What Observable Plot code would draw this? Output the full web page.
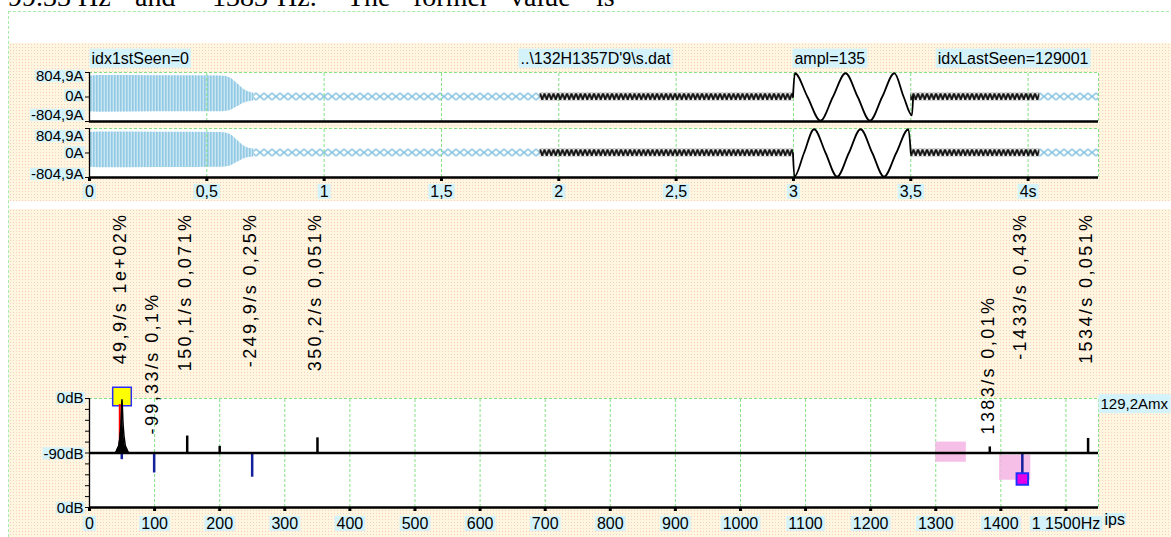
<!DOCTYPE html>
<html><head><meta charset="utf-8">
<script src="https://cdn.jsdelivr.net/npm/d3@7"></script>
<script src="https://cdn.jsdelivr.net/npm/@observablehq/plot@0.6"></script>
<style>
body{margin:0;background:#fff;}
#wrap{position:relative;width:1171px;height:537px;overflow:hidden;background:#fff;font-family:"Liberation Sans",Arial,sans-serif;}
.beige{position:absolute;background-color:#fef6df;background-image:url("data:image/svg+xml,%3Csvg xmlns='http://www.w3.org/2000/svg' width='3' height='3'%3E%3Crect x='1' y='1' width='1' height='1' fill='%23f7cfc8'/%3E%3C/svg%3E");background-size:3px 3px;}
.doc{position:absolute;top:-17px;font-family:"Liberation Serif","Times New Roman",serif;font-size:28px;line-height:28px;white-space:nowrap;color:#000;}
#border{position:absolute;left:8px;top:11px;width:1170px;height:530px;border-top:1px dashed #a6eca6;border-left:1px dashed #a6eca6;}
g[aria-description="speclbl"] text{letter-spacing:2.4px;}
</style></head>
<body><div id="wrap">
<div class="doc" style="left:8px">99.33</div>
<div class="doc" style="left:78px">Hz</div>
<div class="doc" style="left:135px">and</div>
<div class="doc" style="left:212px">1383</div>
<div class="doc" style="left:277px">Hz.</div>
<div class="doc" style="left:347px">The</div>
<div class="doc" style="left:413px">former</div>
<div class="doc" style="left:510px">value</div>
<div class="doc" style="left:596px">is</div>
<div id="border"></div>
<div class="beige" style="left:9px;top:43px;width:1162px;height:158px"></div>
<div class="beige" style="left:9px;top:209px;width:1162px;height:328px"></div>
</div>
<script>
// ---------------- data ----------------
// time axis (s)
const timeTicks = [0, 0.5, 1, 1.5, 2, 2.5, 3, 3.5, 4];
const timeTickLabels = ["0", "0,5", "1", "1,5", "2", "2,5", "3", "3,5", "4s"];
const timeMax = 4.3;
// amplitude axis (units of 804,9 A)
const ampTicks = [1, 0, -1];
const ampTickLabels = ["804,9A", "0A", "-804,9A"];
const headerTexts = ["idx1stSeen=0", "..\\132H1357D'9\\s.dat", "ampl=135", "idxLastSeen=129001"];

// envelope of the dense light-blue start-up part
const envT   = [0, 0.04, 0.3, 0.56, 0.6, 0.63, 0.66, 0.7];
const env1Hi = [0.86, 0.88, 0.87, 0.86, 0.78, 0.55, 0.3, 0.16];
const env1Lo = [-0.6, -0.62, -0.6, -0.6, -0.55, -0.4, -0.24, -0.16];
const env2Hi = [0.84, 0.86, 0.85, 0.84, 0.76, 0.52, 0.28, 0.16];
const env2Lo = [-0.58, -0.6, -0.59, -0.58, -0.53, -0.38, -0.23, -0.16];
// small ripple segments
const zigHalf = 0.16;
const blueZigStart = [0.7, 4.05];
const blueZigEnd   = [1.92, 4.3];
const blackZigStart = [1.92, 3.5];
const blackZigEnd   = [3.0, 4.05];
// low-frequency wave between 3 s and 3.5 s
const sine1T = [2.998, 3.006, 3.06, 3.115, 3.168, 3.222, 3.274, 3.326, 3.378, 3.43, 3.47, 3.505, 3.51];
const sine1V = [0, 0.97, 0, -0.97, 0, 0.97, 0, -0.97, 0, 0.97, 0, -0.75, 0];
const sine2T = [2.998, 3.004, 3.045, 3.088, 3.137, 3.186, 3.236, 3.286, 3.336, 3.386, 3.438, 3.49, 3.5];
const sine2V = [0, -0.97, 0, 0.97, 0, -0.97, 0, 0.97, 0, -0.97, 0, 0.97, 0];

// spectrum (Hz, dB, sign)
const freqMax = 1550;
const specTicks = [0, 100, 200, 300, 400, 500, 600, 700, 800, 900, 1000, 1100, 1200, 1300, 1400, 1500];
const specTickLabels = ["0", "100", "200", "300", "400", "500", "600", "700", "800", "900", "1000", "1100", "1200", "1300", "1400", "1 1500Hz"];
const dbMinorTicks = [-1, -0.8, -0.6, -0.4, -0.2, 0, 0.2, 0.4, 0.6, 0.8, 1];
const dbTickLabels = ["0dB", "-90dB", "0dB"];
const peakFreq = [40, 42.5, 45, 47, 48.5, 49.4, 49.9, 50.4, 51.5, 53, 55, 57.5, 60];
const peakDb   = [-90, -84, -78, -62, -42, -12, -2, -12, -42, -62, -78, -84, -90];
const redFreq = [46.5];
const redDb = [-10];
const specFreq = [49.6, 99.33, 150.1, 200, 249.9, 350.2, 1383, 1433, 1534];
const specDb   = [-79, -57, -62, -79, -50, -65, -80, -47, -66];
const specSign = [-1, -1, 1, 1, -1, 1, 1, -1, 1];
const labelFreq = [49.9, 99.33, 150.1, 249.9, 350.2, 1383, 1433, 1534];
const labelText = ["49,9/s 1e+02%", "-99,33/s 0,1%", "150,1/s 0,071%", "-249,9/s 0,25%", "350,2/s 0,051%", "1383/s 0,01%", "-1433/s 0,43%", "1534/s 0,051%"];
const boxF1 = [1300, 1398];
const boxF2 = [1347, 1446];
const boxDb1 = [-0.17, -0.5];
const boxDb2 = [0.2, -0.04];
const ampMaxText = "129,2Amx";
const unitText = "ips";

// ---------------- helpers ----------------
const FONT = '"Liberation Sans", Arial, Helvetica, sans-serif';
const GREEN = "#84e084";
const NAVY = "#14209c";
const BOX = "#d4f2fa";
const ns = "http://www.w3.org/2000/svg";
const wrap = document.getElementById("wrap");
const ML = 89, MR = 73, W = 1171;

function place(svg, top) {
  svg.style.position = "absolute";
  svg.style.left = "0px";
  svg.style.top = top + "px";
  wrap.appendChild(svg);
}
function addDefs(svg, html) {
  const defs = document.createElementNS(ns, "defs");
  defs.innerHTML = html;
  svg.insertBefore(defs, svg.firstChild);
}
function boxify(svg, sel, px, py) {
  svg.querySelectorAll(sel).forEach(t => {
    if (!t.textContent.trim()) return;
    const tr = t.getAttribute("transform") || "";
    if (tr.includes("rotate")) return;
    const b = t.getBBox();
    const r = document.createElementNS(ns, "rect");
    r.setAttribute("x", b.x - px);
    r.setAttribute("y", b.y - py);
    r.setAttribute("width", b.width + 2 * px);
    r.setAttribute("height", b.height + 2 * py);
    if (tr) r.setAttribute("transform", tr);
    r.setAttribute("fill", BOX);
    r.setAttribute("stroke", "none");
    t.parentNode.insertBefore(r, t);
  });
}
const baseStyle = {fontFamily: FONT, fontSize: "16px", background: "transparent", overflow: "visible", color: "#000"};

// ---------------- waveform panels ----------------
function wavePanel(p) {
  const env = envT.map((t, i) => ({t, hi: p.hi[i], lo: p.lo[i]}));
  const blueZ = blueZigStart.map((a, i) => ({a, b: blueZigEnd[i]}));
  const blackZ = blackZigStart.map((a, i) => ({a, b: blackZigEnd[i]}));
  const sine = p.sT.map((t, i) => ({t, v: p.sV[i]}));
  const grid = [...timeTicks.slice(1), timeMax];
  const marks = [
    Plot.frame({fill: "white", stroke: "none"}),
    Plot.areaY(env, {x: "t", y1: "lo", y2: "hi", fill: `url(#dense${p.id})`, curve: "monotone-x"}),
    Plot.rect(blueZ, {x1: "a", x2: "b", y1: -zigHalf, y2: zigHalf, fill: `url(#qz${p.id})`}),
    Plot.ruleX(grid, {y1: -1, y2: 1, stroke: GREEN, strokeDasharray: "3,2"}),
    Plot.ruleY([1], {stroke: GREEN, strokeDasharray: "3,2"}),
    Plot.rect(blackZ, {x1: "a", x2: "b", y1: -zigHalf, y2: zigHalf, fill: `url(#bz${p.id})`}),
    Plot.line(sine, {x: "t", y: "v", stroke: "#000", strokeWidth: 1.8, curve: "monotone-x"}),
    Plot.ruleY([-1], {stroke: "#000", strokeWidth: 2.5}),
    Plot.ruleX([0], {stroke: "#000", strokeWidth: 1.3}),
    Plot.axisY({ticks: ampTicks, tickSize: 4, tickFormat: () => ""}),
    ...ampTicks.map((v, i) => Plot.text([ampTickLabels[i]], {x: 0, y: v, text: d => d, textAnchor: "end", dx: -6, dy: p.ldy[i], fontSize: 15, ariaDescription: "lbl"}))
  ];
  if (p.header) {
    const hx = [0, 2.156, 3.0, timeMax];
    const ha = ["start", "middle", "start", "end"];
    const hdx = [2, 0, 1, -10];
    headerTexts.forEach((s, i) => marks.push(Plot.text([s], {x: hx[i], y: 1, text: d => d, textAnchor: ha[i], dx: hdx[i], dy: -14, ariaDescription: "hdr"})));
  }
  if (p.axis) {
    marks.push(Plot.axisX({ticks: timeTicks, tickFormat: d => timeTickLabels[timeTicks.indexOf(d)], tickSize: 4, tickPadding: 4, strokeWidth: 3}));
  }
  const plot = Plot.plot({
    width: W, height: p.mt + 49 + p.mb,
    marginLeft: ML, marginRight: MR, marginTop: p.mt, marginBottom: p.mb,
    x: {domain: [0, timeMax], axis: p.axis ? undefined : null},
    y: {domain: [-1, 1]},
    style: baseStyle,
    marks
  });
  const ys = plot.scale("y");
  const top = ys.apply(zigHalf), h = ys.apply(-zigHalf) - top;
  addDefs(plot, `
    <pattern id="dense${p.id}" patternUnits="userSpaceOnUse" width="3" height="4">
      <rect width="3" height="4" fill="#c9e6f3"/><rect width="1.6" height="4" fill="#93c9e4"/>
    </pattern>
    <pattern id="qz${p.id}" patternUnits="userSpaceOnUse" x="0" y="${top}" width="8" height="${h}">
      <path d="M0,0.5L8,${h - 0.5}M8,0.5L0,${h - 0.5}" stroke="#86c2e0" stroke-width="1.6" fill="none"/>
    </pattern>
    <pattern id="bz${p.id}" patternUnits="userSpaceOnUse" x="0" y="${top}" width="4.5" height="${h}">
      <path d="M0,0.6L2.25,${h - 0.6}L4.5,0.6" stroke="#111" stroke-width="2" fill="none" stroke-linejoin="miter"/>
    </pattern>`);
  place(plot, p.top);
  boxify(plot, 'g[aria-description="lbl"] text', 1, -2.5);
  boxify(plot, 'g[aria-description="hdr"] text', 2, 1);
  boxify(plot, 'g[aria-label$="tick label"] text', 2, -1);
}

wavePanel({id: 1, top: 43, mt: 29, mb: 2, hi: env1Hi, lo: env1Lo, sT: sine1T, sV: sine1V, ldy: [4, -1, -6], header: true, axis: false});
wavePanel({id: 2, top: 123, mt: 5, mb: 31, hi: env2Hi, lo: env2Lo, sT: sine2T, sV: sine2V, ldy: [8, 0, -3], header: false, axis: true});

// ---------------- spectrum ----------------
const lvl = (db, s) => s * (db + 90) / 90;
const peak = peakFreq.map((f, i) => ({f, v: lvl(peakDb[i], 1)}));
const red = redFreq.map((f, i) => ({f, v: lvl(redDb[i], 1)}));
const lines = specFreq.map((f, i) => ({f, v: lvl(specDb[i], specSign[i]), s: specSign[i]}));
const labels = labelFreq.map((f, i) => ({f, t: labelText[i]}));
const lowSet = new Set([1, 5]);
const boxes = boxF1.map((a, i) => ({a, b: boxF2[i], y1: boxDb1[i], y2: boxDb2[i]}));
const marker1 = lines[7];

const spec = Plot.plot({
  width: W, height: 337,
  marginLeft: ML, marginRight: MR, marginTop: 198, marginBottom: 30,
  x: {domain: [0, freqMax]},
  y: {domain: [-1, 1]},
  style: baseStyle,
  marks: [
    Plot.frame({fill: "white", stroke: "none"}),
    Plot.ruleX([...specTicks.slice(1), freqMax], {y1: -1, y2: 1, stroke: GREEN, strokeDasharray: "3,2"}),
    Plot.ruleY([1], {stroke: GREEN, strokeDasharray: "3,2"}),
    Plot.rect(boxes, {x1: "a", x2: "b", y1: "y1", y2: "y2", fill: "#f5b4e3", fillOpacity: 0.85}),
    Plot.dot([{f: 49.9, v: lvl(0, 1)}], {x: "f", y: "v", symbol: "square", r: 10.5, fill: "#ffff00", stroke: "#2b2bff", strokeWidth: 1.5, dy: -2}),
    Plot.ruleX(red, {x: "f", y1: 0, y2: "v", stroke: "#ff0000", strokeWidth: 2}),
    Plot.areaY(peak, {x: "f", y1: 0, y2: "v", fill: "#000"}),
    Plot.line(peak, {x: "f", y: "v", stroke: "#000", strokeWidth: 1.5}),
    Plot.ruleX(lines, {x: "f", y1: 0, y2: "v", stroke: d => d.s > 0 ? "#000" : NAVY, strokeWidth: 2.5}),
    Plot.ruleY([0], {stroke: "#000", strokeWidth: 2.5}),
    Plot.ruleY([-1], {stroke: "#000", strokeWidth: 2.5}),
    Plot.ruleX([0], {stroke: "#000", strokeWidth: 1.3}),
    Plot.dot([marker1], {x: "f", y: "v", symbol: "square", r: 6.5, fill: "#e600e6", stroke: "#2030ff", strokeWidth: 2}),
    Plot.axisY({ticks: dbMinorTicks, tickSize: 4, tickFormat: () => ""}),
    Plot.text([dbTickLabels[0]], {x: 0, y: 1, text: d => d, textAnchor: "end", dx: -6, dy: 0, fontSize: 15, ariaDescription: "lbl"}),
    Plot.text([dbTickLabels[1]], {x: 0, y: 0, text: d => d, textAnchor: "end", dx: -6, dy: 1, fontSize: 15, ariaDescription: "lbl"}),
    Plot.text([dbTickLabels[2]], {x: 0, y: -1, text: d => d, textAnchor: "end", dx: -6, dy: 1, fontSize: 15, ariaDescription: "lbl"}),
    Plot.axisX({ticks: specTicks, tickFormat: d => specTickLabels[specTicks.indexOf(d)], tickSize: 4, tickPadding: 6, strokeWidth: 3}),
    Plot.text(labels.filter((d, i) => !lowSet.has(i)), {x: "f", text: "t", frameAnchor: "top", rotate: -90, textAnchor: "end", lineAnchor: "middle", dx: -2, dy: -186, fontSize: 18, ariaDescription: "speclbl"}),
    Plot.text(labels.filter((d, i) => lowSet.has(i)), {x: "f", text: "t", frameAnchor: "top", rotate: -90, textAnchor: "start", lineAnchor: "middle", dx: -2, dy: 36, fontSize: 18, ariaDescription: "speclbl"}),
    Plot.text([ampMaxText], {frameAnchor: "top-right", text: d => d, textAnchor: "start", dx: 2, dy: 0, fontSize: 15, ariaDescription: "hdr"}),
    Plot.text([unitText], {frameAnchor: "bottom-right", text: d => d, textAnchor: "start", dx: 6, dy: 17, ariaDescription: "lbl"})
  ]
});
place(spec, 200);
boxify(spec, 'g[aria-description="lbl"] text', 1, -2.5);
boxify(spec, 'g[aria-description="hdr"] text', 2, 1);
boxify(spec, 'g[aria-label$="tick label"] text', 2, -1);
</script>
</body></html>
